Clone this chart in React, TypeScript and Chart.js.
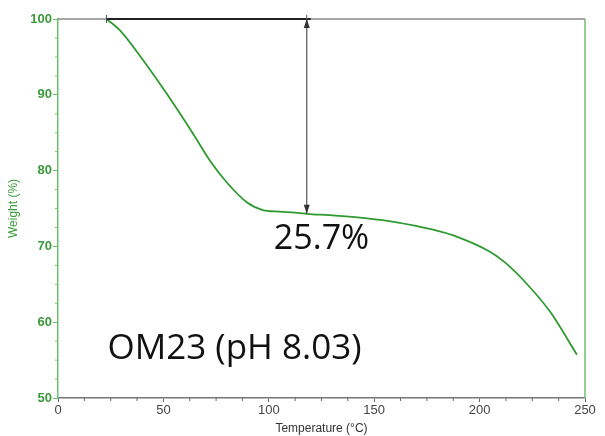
import React, { useEffect, useRef } from "react";
import { Chart, registerables } from "chart.js";

Chart.register(...registerables);

const temperature = [23, 29.4, 40.3, 51.7, 64.0, 72.1, 80.2, 89.7, 97.2, 105, 114.8, 118.1, 130, 146.6, 160, 177.9, 190, 204.9, 212, 220.6, 233.4, 246.2];
const weight = [100, 98.5, 94.6, 90.1, 84.9, 81.3, 78.4, 75.8, 74.8, 74.6, 74.4, 74.3, 74.1, 73.7, 73.2, 72.2, 71.2, 69.3, 67.9, 65.6, 61.4, 55.7];

const xTicks = [0, 50, 100, 150, 200, 250];
const yTicks = [50, 60, 70, 80, 90, 100];

const stepStart = 23;
const stepEnd = 118;
const stepTop = 100;
const stepBottom = 74.3;
const lossLabel = "25.7%";
const sampleLabel = "OM23 (pH 8.03)";
const lossLabelPos = [125, 69.6];
const sampleLabelPos = [23.5, 55.1];

const GREEN_LINE = "#2f9a2f";
const GREEN_AXIS = "#6cc16c";
const GREEN_TEXT = "#3a9a3a";

const decorPlugin = {
  id: "decor",
  afterDraw(chart: any) {
    const { ctx, chartArea, scales } = chart;
    const xs = scales.x;
    const ys = scales.y;
    ctx.save();
    ctx.lineWidth = 1.5;
    ctx.strokeStyle = "#8a8a8a";
    ctx.beginPath();
    ctx.moveTo(chartArea.left, chartArea.top);
    ctx.lineTo(chartArea.right, chartArea.top);
    ctx.stroke();
    ctx.strokeStyle = GREEN_AXIS;
    ctx.beginPath();
    ctx.moveTo(chartArea.right, chartArea.top);
    ctx.lineTo(chartArea.right, chartArea.bottom);
    ctx.stroke();

    ctx.lineWidth = 1;
    ctx.strokeStyle = GREEN_AXIS;
    for (let v = 50; v <= 100; v += 2.5) {
      if (v % 10 === 0) continue;
      const py = ys.getPixelForValue(v);
      ctx.beginPath();
      ctx.moveTo(chartArea.left - 3, py);
      ctx.lineTo(chartArea.left, py);
      ctx.stroke();
    }
    ctx.strokeStyle = "#666";
    for (let v = 0; v <= 250; v += 12.5) {
      if (v % 50 === 0) continue;
      const px = xs.getPixelForValue(v);
      ctx.beginPath();
      ctx.moveTo(px, chartArea.bottom);
      ctx.lineTo(px, chartArea.bottom + 3);
      ctx.stroke();
    }

    const x1 = xs.getPixelForValue(stepStart);
    const x2 = xs.getPixelForValue(stepEnd);
    const yTop = ys.getPixelForValue(stepTop);
    const yBot = ys.getPixelForValue(stepBottom);
    ctx.strokeStyle = "#222";
    ctx.lineWidth = 2;
    ctx.beginPath();
    ctx.moveTo(x1, yTop);
    ctx.lineTo(x2 + 4, yTop);
    ctx.stroke();
    ctx.lineWidth = 1;
    ctx.strokeStyle = "#555";
    ctx.beginPath();
    ctx.moveTo(x1, yTop - 4);
    ctx.lineTo(x1, yTop + 4);
    ctx.moveTo(x2, yTop - 4);
    ctx.lineTo(x2, yTop + 4);
    ctx.stroke();

    ctx.strokeStyle = "#555";
    ctx.lineWidth = 1.2;
    ctx.beginPath();
    ctx.moveTo(x2, yTop);
    ctx.lineTo(x2, yBot);
    ctx.stroke();
    ctx.fillStyle = "#333";
    ctx.beginPath();
    ctx.moveTo(x2, yTop);
    ctx.lineTo(x2 - 3, yTop + 9);
    ctx.lineTo(x2 + 3, yTop + 9);
    ctx.closePath();
    ctx.fill();
    ctx.beginPath();
    ctx.moveTo(x2, yBot);
    ctx.lineTo(x2 - 3, yBot - 9);
    ctx.lineTo(x2 + 3, yBot - 9);
    ctx.closePath();
    ctx.fill();

    ctx.fillStyle = "#111";
    ctx.font = '34px "Open Sans", "Noto Sans", sans-serif';
    ctx.textBaseline = "alphabetic";
    ctx.textAlign = "center";
    ctx.fillText(lossLabel, xs.getPixelForValue(lossLabelPos[0]), ys.getPixelForValue(lossLabelPos[1]));
    ctx.textAlign = "left";
    ctx.font = '35px "Open Sans", "Noto Sans", sans-serif';
    ctx.fillText(sampleLabel, xs.getPixelForValue(sampleLabelPos[0]), ys.getPixelForValue(sampleLabelPos[1]));
    ctx.restore();
  },
};

export default function App() {
  const ref = useRef<HTMLCanvasElement | null>(null);
  useEffect(() => {
    document.body.style.margin = "0";
    const canvas = ref.current!;
    const chart = new Chart(canvas, {
      type: "line",
      data: {
        datasets: [
          {
            data: temperature.map((t, i) => ({ x: t, y: weight[i] })),
            borderColor: GREEN_LINE,
            borderWidth: 1.8,
            pointRadius: 0,
            fill: false,
            cubicInterpolationMode: "monotone",
          },
        ],
      },
      options: {
        animation: false,
        responsive: false,
        maintainAspectRatio: false,
        layout: { padding: { top: 19, right: 20, left: 0, bottom: 0 } },
        plugins: { legend: { display: false }, tooltip: { enabled: false } },
        scales: {
          x: {
            type: "linear",
            min: 0,
            max: 250,
            afterBuildTicks: (s: any) => {
              s.ticks = xTicks.map((v) => ({ value: v }));
            },
            afterFit: (s: any) => {
              s.height = 38;
            },
            border: { color: "#777", width: 1.5 },
            grid: { drawOnChartArea: false, tickLength: 4, color: "#666" },
            ticks: {
              color: "#444",
              padding: 1,
              maxRotation: 0,
              font: { family: '"Liberation Sans", Arial, sans-serif', size: 13 },
            },
            title: {
              display: true,
              text: "Temperature (°C)",
              color: "#333",
              padding: { top: 0, bottom: 0 },
              font: { family: '"Liberation Sans", Arial, sans-serif', size: 12 },
            },
          },
          y: {
            type: "linear",
            min: 50,
            max: 100,
            afterBuildTicks: (s: any) => {
              s.ticks = yTicks.map((v) => ({ value: v }));
            },
            afterFit: (s: any) => {
              s.width = 58;
            },
            border: { color: GREEN_AXIS, width: 1.5 },
            grid: { drawOnChartArea: false, tickLength: 5, color: GREEN_AXIS },
            ticks: {
              color: GREEN_TEXT,
              padding: 1,
              font: { family: '"Liberation Sans", Arial, sans-serif', size: 13, weight: "bold" },
            },
            title: {
              display: true,
              text: "Weight (%)",
              color: GREEN_TEXT,
              padding: { top: 6, bottom: 0 },
              font: { family: '"Liberation Sans", Arial, sans-serif', size: 12 },
            },
          },
        },
      },
      plugins: [decorPlugin],
    } as any);
    return () => chart.destroy();
  }, []);
  return <canvas ref={ref} width={605} height={436} style={{ display: "block" }} />;
}
